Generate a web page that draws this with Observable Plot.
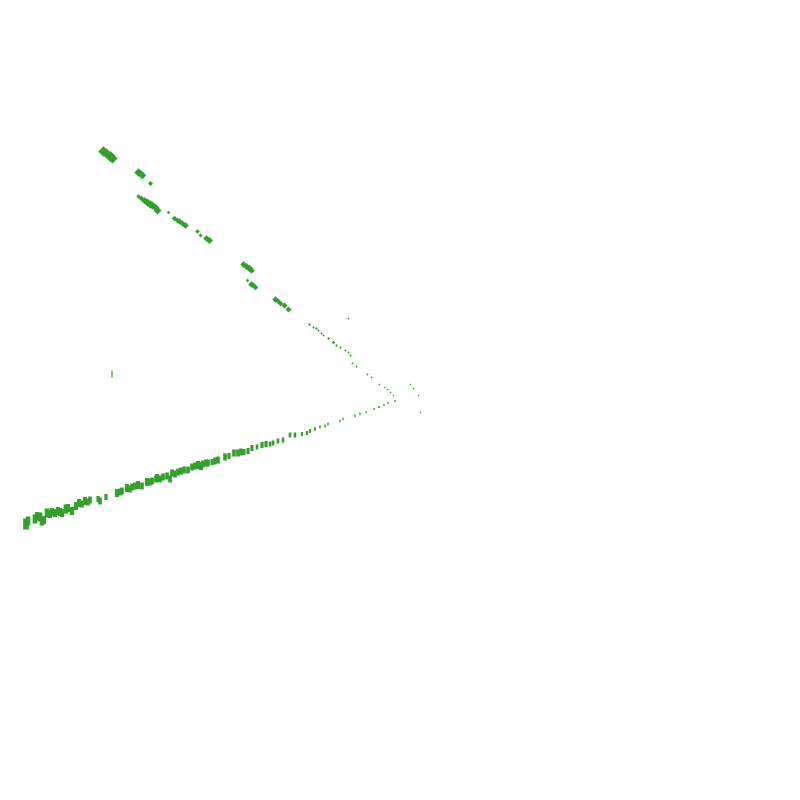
<!DOCTYPE html>
<html>
<head>
<meta charset="utf-8">
<script src="https://cdn.jsdelivr.net/npm/d3@7"></script>
<script src="https://cdn.jsdelivr.net/npm/@observablehq/plot@0.6"></script>
<style>
  html, body { margin: 0; padding: 0; background: #fff; }
</style>
</head>
<body>
<div id="chart"></div>
<script>
// Upper arm: x, y (y measured downward), size
const upperX = [103,106,110,112,138,141,142,150,138,141,144,147,150,152,155,157,168,174,177,179,182,185,197,200,206,209,243,246,249,251,247,251,253,255,275,278,280,284,288,309,313,316,318,321,323,328,333,336,340,345,348,350,352,356,367,371,379,384,387,390,393,348,410,413,418,420];
const upperY = [151,153,156,158,172,174,175,183,196,198,200,202,204,205,207,210,212,218,220,221,223,225,231,235,238,240,264,266,268,270,280,284,285,287,299,301,303,305,309,324,327,328,330,333,335,338,342,345,347,350,352,355,363,366,374,377,384,387,389,392,395,318,384,388,395,412];
const upperS = [4.2,4.0,4.4,4.0,3.4,3.2,3.0,2.0,1.8,2.2,2.8,3.2,3.4,3.2,3.0,3.2,1.4,2.2,2.2,2.6,2.4,2.6,1.8,1.6,2.6,2.8,2.6,2.8,3.0,2.6,1.4,2.6,2.4,2.2,2.6,2.2,2.2,2.4,2.4,1.1,1.0,1.1,1.0,1.0,1.0,1.1,1.3,1.1,1.0,1.0,0.9,1.0,0.9,0.9,0.9,0.8,0.8,0.8,0.8,0.8,0.7,0.8,0.8,0.8,0.8,0.8];

// Lower arm: x, y (y measured downward), size (bar height)
const lowerX = [26,28,35,37,40,44,42,47,50,52,55,58,60,62,66,68,72,76,79,82,85,88,90,98,100,106,117,120,122,127,130,132,135,138,142,147,150,152,156,157,160,163,167,170,172,175,178,181,184,188,192,195,198,201,203,206,208,212,215,218,225,229,234,238,241,244,248,252,257,262,266,270,273,278,283,290,295,302,307,310,315,320,325,328,340,343,355,360,366,374,379,384,388,395];
const lowerY = [524,521,519,516,517,520,521,513,514,512,513,511,512,513,509,508,511,506,503,504,501,502,500,499,501,497,493,492,491,488,489,487,486,485,486,482,482,481,479,478,479,477,476,479,473,474,472,471,470,470,467,466,465,466,464,463,463,462,461,460,457,456,453,453,452,452,451,448,447,445,444,444,443,441,440,435,435,434,433,431,429,427,426,424,421,419,416,414,412,409,407,405,403,401];
const lowerS = [11,9,9,8,9,8,9,9,8,8,8,8,8,8,9,8,8,8,8,7,8,7,7,6,7,6,8,7,7,8,7,7,7,8,7,8,7,7,7,8,7,7,7,7,7,7,7,7,7,7,7,7,8,8,7,7,7,6,7,7,7,6,7,7,7,6,6,6,5,6,6,5,5,5,5,5,5,4,4,4,3.5,3,3,3,2.5,2.5,2.5,2.5,2,2,2,2,2,2];

// Isolated outlier
const loneX = [112];
const loneY = [374];
const loneS = [7];

const green = "#33a02c";
const upper = upperX.map((x, i) => ({x, y: upperY[i], s: upperS[i]}));
const lower = lowerX.map((x, i) => ({x, y: lowerY[i], s: lowerS[i]}));
const lone = loneX.map((x, i) => ({x, y: loneY[i], s: loneS[i]}));

const chart = Plot.plot({
  width: 800,
  height: 800,
  margin: 0,
  x: {domain: [0, 800], axis: null},
  y: {domain: [0, 800], range: [0, 800], axis: null},
  r: {type: "identity"},
  marks: [
    Plot.dot(upper, {x: "x", y: "y", r: "s", symbol: "square", rotate: 45, fill: green, stroke: "none"}),
    Plot.rect(lower, {
      x1: d => d.x - Math.max(0.7, d.s * 0.26),
      x2: d => d.x + Math.max(0.7, d.s * 0.26),
      y1: d => d.y - d.s / 2,
      y2: d => d.y + d.s / 2,
      fill: green
    }),
    Plot.rect(lone, {
      x1: d => d.x - 0.6,
      x2: d => d.x + 0.6,
      y1: d => d.y - d.s / 2,
      y2: d => d.y + d.s / 2,
      fill: green
    })
  ]
});
document.getElementById("chart").append(chart);
</script>
</body>
</html>
